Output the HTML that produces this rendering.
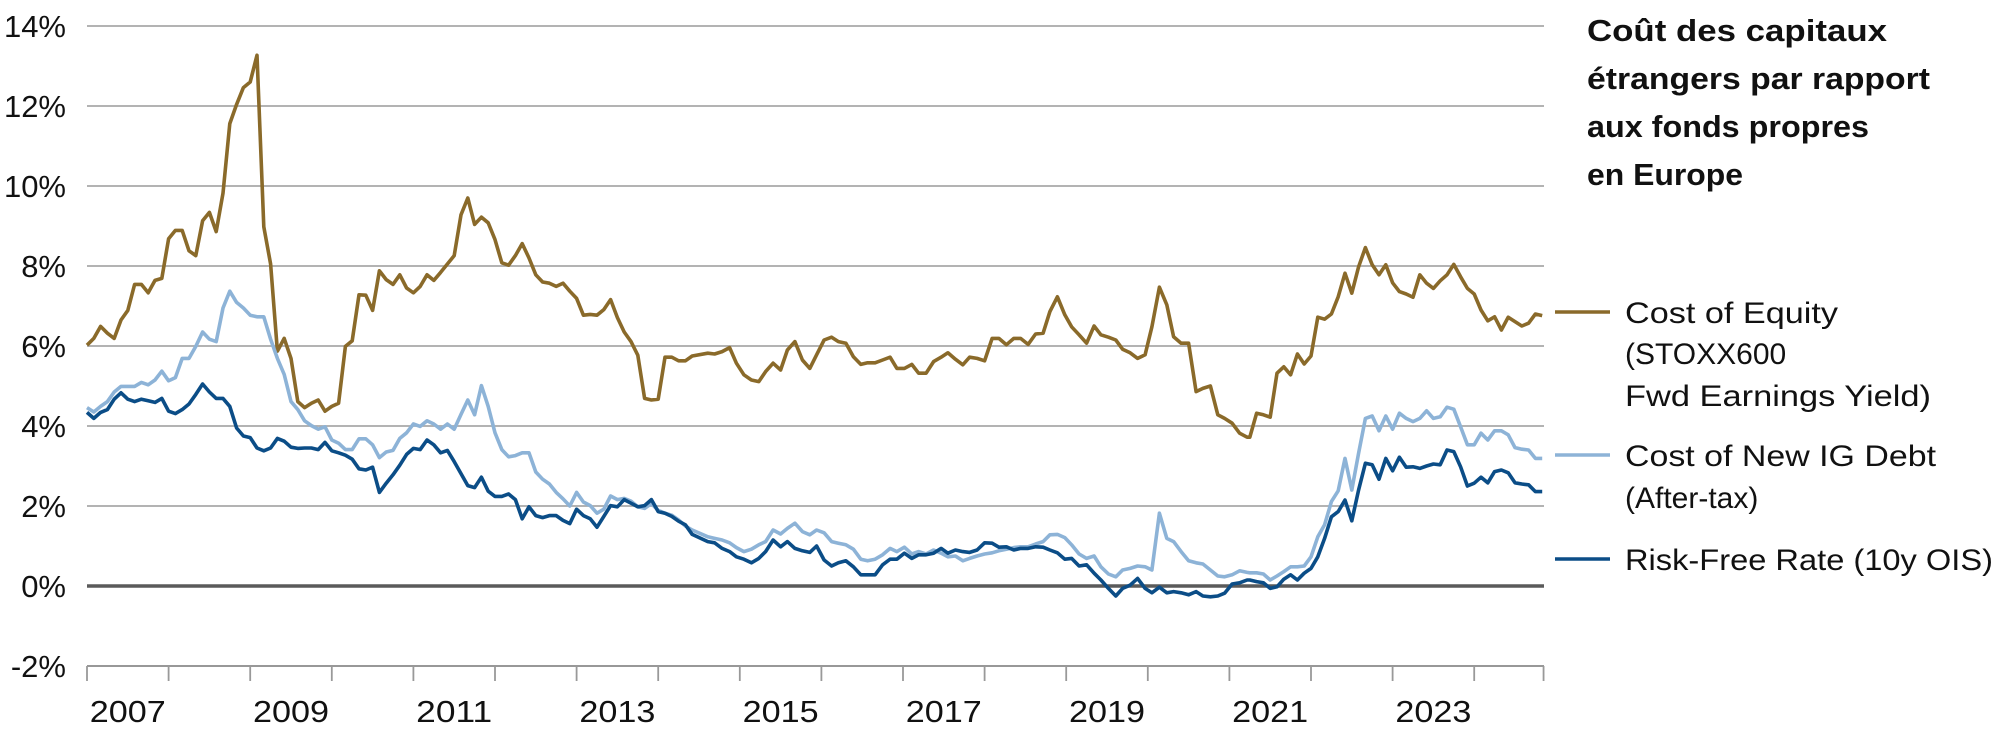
<!DOCTYPE html>
<html><head><meta charset="utf-8"><style>
html,body{margin:0;padding:0;background:#fff;}
svg{display:block;font-family:"Liberation Sans",sans-serif;}
</style></head><body>
<svg id="chart" width="2000" height="753" viewBox="0 0 2000 753">
<g id="grid"></g>
<g id="yaxis"></g>
<g id="xaxis"></g>
<g id="series"></g>
<g font-weight="bold" font-size="31" fill="#111">
<text x="1587" y="41" textLength="300" lengthAdjust="spacingAndGlyphs">Coût des capitaux</text>
<text x="1587" y="89" textLength="343" lengthAdjust="spacingAndGlyphs">étrangers par rapport</text>
<text x="1587" y="137" textLength="282" lengthAdjust="spacingAndGlyphs">aux fonds propres</text>
<text x="1587" y="185" textLength="156" lengthAdjust="spacingAndGlyphs">en Europe</text>
</g>
<g font-size="30" fill="#111">
<g>
<line x1="1555" y1="312" x2="1610" y2="312" stroke="#8a6a2a" stroke-width="3.5"/>
<text x="1625" y="323" textLength="213" lengthAdjust="spacingAndGlyphs">Cost of Equity</text>
<text x="1625" y="364">(STOXX600</text>
<text x="1625" y="406" textLength="306" lengthAdjust="spacingAndGlyphs">Fwd Earnings Yield)</text>
</g>
<g>
<line x1="1555" y1="455" x2="1610" y2="455" stroke="#8db3d7" stroke-width="3.5"/>
<text x="1625" y="466" textLength="311" lengthAdjust="spacingAndGlyphs">Cost of New IG Debt</text>
<text x="1625" y="508">(After-tax)</text>
</g>
<g>
<line x1="1555" y1="559" x2="1610" y2="559" stroke="#0b4d87" stroke-width="3.5"/>
<text x="1625" y="570" textLength="368" lengthAdjust="spacingAndGlyphs">Risk-Free Rate (10y OIS)</text>
</g>
</g>
</svg>
<script>
const yTicks = [-2,0,2,4,6,8,10,12,14];
const yTickLabels = ["-2%","0%","2%","4%","6%","8%","10%","12%","14%"];
const years = [2007,2008,2009,2010,2011,2012,2013,2014,2015,2016,2017,2018,2019,2020,2021,2022,2023,2024];
const yearLabels = ["2007","","2009","","2011","","2013","","2015","","2017","","2019","","2021","","2023",""];
// months since Jan 2007
const months = [0,1,2,3,4,5,6,7,8,9,10,11,12,13,14,15,16,17,18,19,20,21,22,23,24,25,26,27,28,29,30,31,32,33,34,35,36,37,38,39,40,41,42,43,44,45,46,47,48,49,50,51,52,53,54,55,56,57,58,59,60,61,62,63,64,65,66,67,68,69,70,71,72,73,74,75,76,77,78,79,80,81,82,83,84,85,86,87,88,89,
91.3,92.3,93.4,94.5,95.5,96.6,97.7,98.8,99.8,100.9,102.0,103.0,104.1,105.2,106.3,107.3,108.4,109.5,110.5,111.6,112.7,113.8,114.8,115.9,117.0,118.1,119.1,120.2,121.3,122.3,123.4,124.5,125.6,126.6,127.7,128.8,129.8,130.9,132.0,133.1,134.1,135.2,136.3,137.3,138.4,139.5,140.6,141.6,142.7,143.8,144.8,145.9,147.0,148.1,149.1,150.2,151.3,152.3,153.4,154.5,155.6,156.6,157.7,158.8,159.8,160.9,162.0,163.1,164.1,165.2,166.3,167.3,168.4,169.5,170.6,
171,172,173,174,175,176,177,178,179,180,181,182,183,184,185,186,187,188,189,190,191,192,193,194,195,196,197,198,199,200,201,202,203,204,205,206,207,208,209,210,211,212,213,214];
const costOfEquity = [6.02,6.19,6.49,6.32,6.19,6.65,6.89,7.54,7.54,7.33,7.64,7.69,8.68,8.89,8.89,8.38,8.26,9.13,9.34,8.86,9.82,11.56,12.04,12.46,12.6,13.27,8.98,8.05,5.87,6.19,5.69,4.61,4.46,4.57,4.65,4.37,4.49,4.57,5.99,6.13,7.28,7.27,6.89,7.88,7.66,7.54,7.78,7.45,7.33,7.49,7.78,7.64,7.84,8.05,8.26,9.28,9.7,9.04,9.22,9.08,8.66,8.08,8.02,8.26,8.56,8.2,7.78,7.6,7.57,7.49,7.57,7.37,7.19,6.77,6.79,6.77,6.91,7.16,6.71,6.35,6.11,5.77,4.69,4.65,4.67,5.72,5.72,5.63,5.63,5.75,
5.82,5.8,5.86,5.96,5.57,5.28,5.15,5.11,5.36,5.57,5.4,5.9,6.11,5.65,5.44,5.78,6.15,6.22,6.11,6.07,5.73,5.54,5.58,5.58,5.65,5.72,5.44,5.44,5.54,5.32,5.32,5.61,5.72,5.83,5.67,5.53,5.72,5.69,5.63,6.19,6.19,6.03,6.19,6.19,6.04,6.3,6.32,6.86,7.23,6.78,6.48,6.28,6.07,6.5,6.28,6.22,6.15,5.92,5.83,5.69,5.78,6.48,7.47,7.03,6.23,6.07,6.07,4.86,4.94,5.0,4.28,4.19,4.07,3.82,3.72,
3.72,4.32,4.28,4.22,5.32,5.48,5.28,5.8,5.55,5.75,6.72,6.67,6.8,7.23,7.82,7.32,7.98,8.46,8.03,7.78,8.03,7.58,7.36,7.3,7.22,7.78,7.57,7.44,7.63,7.78,8.04,7.73,7.44,7.3,6.9,6.63,6.73,6.4,6.72,6.61,6.5,6.57,6.8,6.76];
const costOfDebt = [4.46,4.35,4.49,4.61,4.85,4.99,4.99,4.99,5.09,5.03,5.15,5.37,5.13,5.21,5.69,5.69,5.99,6.35,6.17,6.11,6.95,7.37,7.09,6.95,6.77,6.73,6.73,6.17,5.69,5.29,4.61,4.41,4.13,4.01,3.92,3.98,3.65,3.57,3.41,3.41,3.68,3.68,3.53,3.21,3.35,3.39,3.69,3.83,4.05,3.99,4.13,4.05,3.92,4.05,3.92,4.29,4.65,4.28,5.01,4.49,3.83,3.41,3.23,3.26,3.33,3.33,2.85,2.67,2.55,2.34,2.18,2.0,2.34,2.1,2.01,1.82,1.92,2.25,2.16,2.19,2.12,1.98,1.94,2.06,1.89,1.82,1.77,1.65,1.5,1.4,
1.23,1.19,1.15,1.08,0.96,0.86,0.92,1.03,1.11,1.4,1.3,1.44,1.57,1.36,1.28,1.4,1.33,1.11,1.07,1.03,0.92,0.67,0.63,0.67,0.78,0.94,0.86,0.97,0.8,0.86,0.8,0.9,0.82,0.73,0.75,0.63,0.69,0.75,0.8,0.83,0.88,0.92,0.96,0.98,0.98,1.05,1.11,1.28,1.29,1.21,1.03,0.8,0.69,0.75,0.48,0.3,0.23,0.4,0.44,0.5,0.48,0.4,1.82,1.19,1.11,0.86,0.63,0.58,0.55,0.4,0.25,0.23,0.28,0.38,0.34,
0.33,0.33,0.3,0.15,0.25,0.36,0.48,0.48,0.5,0.73,1.23,1.53,2.11,2.38,3.19,2.4,3.32,4.19,4.25,3.88,4.25,3.92,4.32,4.19,4.11,4.19,4.38,4.19,4.23,4.47,4.42,3.98,3.53,3.53,3.82,3.65,3.88,3.88,3.78,3.46,3.42,3.4,3.19,3.19];
const riskFree = [4.34,4.19,4.34,4.41,4.67,4.83,4.67,4.61,4.67,4.63,4.59,4.69,4.37,4.31,4.41,4.55,4.79,5.05,4.85,4.69,4.69,4.49,3.95,3.75,3.71,3.45,3.38,3.45,3.69,3.62,3.47,3.44,3.45,3.45,3.41,3.59,3.38,3.33,3.27,3.17,2.93,2.9,2.97,2.34,2.57,2.78,3.02,3.29,3.44,3.41,3.65,3.53,3.33,3.39,3.11,2.81,2.51,2.46,2.72,2.37,2.24,2.24,2.3,2.16,1.68,1.98,1.76,1.71,1.76,1.76,1.64,1.56,1.92,1.76,1.68,1.47,1.74,2.01,1.98,2.16,2.07,1.98,2.01,2.16,1.86,1.82,1.74,1.62,1.53,1.29,
1.11,1.08,0.94,0.86,0.73,0.67,0.58,0.69,0.86,1.15,0.98,1.11,0.94,0.88,0.84,1.0,0.65,0.5,0.58,0.63,0.48,0.28,0.28,0.28,0.53,0.67,0.67,0.82,0.69,0.78,0.78,0.82,0.94,0.82,0.9,0.86,0.84,0.9,1.08,1.07,0.97,0.98,0.9,0.94,0.94,0.98,0.97,0.9,0.83,0.67,0.69,0.5,0.53,0.32,0.15,-0.06,-0.25,-0.06,0.02,0.19,-0.06,-0.17,-0.03,-0.17,-0.14,-0.17,-0.22,-0.14,-0.25,-0.27,-0.25,-0.18,0.05,0.08,0.15,
0.15,0.11,0.08,-0.06,-0.02,0.17,0.28,0.15,0.32,0.44,0.73,1.19,1.73,1.86,2.15,1.63,2.4,3.07,3.03,2.67,3.19,2.88,3.22,2.97,2.98,2.94,3.0,3.05,3.03,3.4,3.36,2.98,2.5,2.57,2.72,2.58,2.86,2.9,2.83,2.58,2.55,2.53,2.36,2.36];

const NS='http://www.w3.org/2000/svg';
const X0=87, PX_PER_YEAR=81.6, X_END=1544;
function xOfMonth(m){return X0 + m*PX_PER_YEAR/12;}
function xOfYear(y){return X0 + (y-2007)*PX_PER_YEAR;}
function yOf(v){return 586 - v*40;}
function mk(tag, attrs, parent){const e=document.createElementNS(NS,tag);for(const k in attrs)e.setAttribute(k,attrs[k]);parent.appendChild(e);return e;}

const grid=document.getElementById('grid');
const yax=document.getElementById('yaxis');
yTicks.forEach((t,i)=>{
  const isZero=t===0, isBottom=t===-2;
  const ln=mk('line',{x1:X0,x2:X_END,y1:yOf(t),y2:yOf(t),stroke:isZero?'#5a5a5a':(isBottom?'#8a8a8a':'#a8a8a8'),'stroke-width':isZero?3.5:1.8},grid);
  
  
  const tx=mk('text',{x:66,y:yOf(t)+11,'text-anchor':'end','font-size':31,fill:'#111'},yax);
  tx.textContent=yTickLabels[i];
  
  
});
const xax=document.getElementById('xaxis');
const tickYears=years.concat([2024.85]);
tickYears.forEach(y=>{
  const tk=mk('line',{x1:xOfYear(y),x2:xOfYear(y),y1:666,y2:681,stroke:'#999','stroke-width':1.8},xax);
  
  
});
years.forEach((y,i)=>{
  if(!yearLabels[i])return;
  const tx=mk('text',{x:xOfYear(y)+PX_PER_YEAR/2,y:722,'text-anchor':'middle','font-size':31,fill:'#111',textLength:76,lengthAdjust:'spacingAndGlyphs'},xax);
  tx.textContent=yearLabels[i];
  
  
});

const ser=document.getElementById('series');
function drawLine(vals,color,name){
  let d='';
  vals.forEach((v,i)=>{d+=(i?'L':'M')+xOfMonth(months[i]).toFixed(1)+','+yOf(v).toFixed(1);});
  const p=mk('path',{d:d,fill:'none',stroke:color,'stroke-width':3.6,'stroke-linejoin':'round'},ser);
  
  
}
drawLine(costOfEquity,'#8a6a2a','cost-of-equity-line');
drawLine(costOfDebt,'#8db3d7','cost-of-new-ig-debt-line');
drawLine(riskFree,'#0b4d87','risk-free-rate-line');
</script>
</body></html>
